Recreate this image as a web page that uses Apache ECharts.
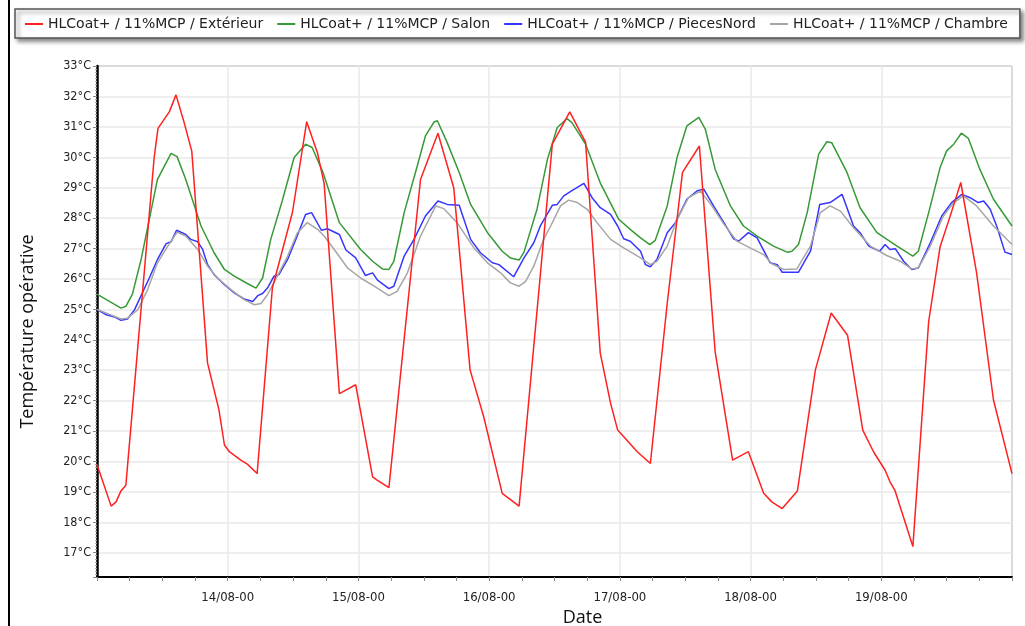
<!DOCTYPE html>
<html><head><meta charset="utf-8">
<script src="https://cdn.jsdelivr.net/npm/echarts@6/dist/echarts.min.js"></script>
<style>html,body{margin:0;padding:0;background:#fff}#c{width:1025px;height:626px}</style>
</head><body><div id="c"></div>
<script>
// Series names (legend)
const seriesNames = [
  'HLCoat+ / 11%MCP / Extérieur',
  'HLCoat+ / 11%MCP / Salon',
  'HLCoat+ / 11%MCP / PiecesNord',
  'HLCoat+ / 11%MCP / Chambre'
];
// Time in hours since 13/08 00:00, temperatures in °C
const extHours = [0,2.6,3.5,4.4,5.3,10.5,11.2,13.3,14.5,16.0,17.4,20.3,22.4,23.4,24.3,26.4,27.6,29.4,32.2,35.9,38.5,40.5,41.7,44.5,47.5,50.6,51.5,53.6,59.4,62.6,65.5,68.5,71.0,74.4,77.5,83.6,86.8,89.7,92.4,94.3,95.6,99.2,101.6,104.7,107.5,110.6,113.5,116.7,119.6,122.4,123.9,125.8,128.6,131.9,134.8,137.8,140.6,142.6,144.7,145.6,146.5,149.8,152.7,154.8,156.6,158.6,161.5,164.6,168];
const extTemps = [19.9,18.53,18.67,19.03,19.22,30.0,30.95,31.5,32.05,31.14,30.2,23.23,21.69,20.54,20.32,20.04,19.91,19.6,25.7,28.2,31.17,30.13,29.14,22.23,22.52,19.49,19.38,19.14,29.27,30.79,29.0,23.01,21.47,18.95,18.53,30.43,31.49,30.5,23.56,21.91,21.03,20.32,19.93,25.2,29.5,30.37,23.6,20.04,20.32,18.95,18.67,18.45,19.03,23.01,24.88,24.15,21.03,20.31,19.71,19.33,19.05,17.2,24.6,27.06,28.04,29.17,26.2,22.02,19.6];

const salonHours = [0,4.4,5.3,6.5,8.1,9.6,11.1,13.6,14.7,16.3,19.1,21.5,23.4,25.2,27.6,29.2,30.4,31.9,34.0,36.2,38.3,39.5,41.5,44.5,48.4,50.6,52.4,53.6,54.5,56.4,58.8,60.3,61.9,62.5,64.3,66.5,68.6,71.7,74.4,75.9,77.5,78.4,80.8,82.7,84.5,86.3,87.2,89.7,92.4,95.8,97.9,99.8,101.5,102.5,104.7,106.5,108.3,110.5,111.7,113.5,116.3,118.7,121.2,124.2,126.7,127.6,128.8,130.4,132.5,134.0,134.9,137.7,140.1,143.2,146.9,149.8,150.8,152.7,154.8,156.0,157.3,158.7,160.0,162.1,164.6,168];
const salonTemps = [25.5,25.04,25.1,25.5,26.64,27.96,29.27,30.13,30.02,29.27,27.74,26.86,26.31,26.09,25.85,25.7,26.03,27.3,28.56,29.99,30.43,30.32,29.5,27.85,26.97,26.58,26.33,26.31,26.58,28.18,29.71,30.7,31.16,31.2,30.48,29.5,28.45,27.52,26.91,26.69,26.62,26.88,28.3,29.93,30.98,31.27,31.14,30.43,29.16,27.96,27.63,27.35,27.13,27.27,28.4,29.99,31.03,31.31,30.92,29.6,28.4,27.74,27.41,27.08,26.88,26.91,27.13,28.18,30.1,30.51,30.48,29.5,28.34,27.52,27.08,26.75,26.91,28.18,29.66,30.21,30.43,30.79,30.62,29.6,28.62,27.74];

const nordHours = [0,1.7,3.2,4.4,5.6,6.9,9.6,11.1,12.7,13.6,14.6,16.3,17.2,18.5,19.4,20.3,21.5,23.4,25.2,27.0,28.6,29.5,30.4,31.3,32.5,33.4,35.0,36.5,38.3,39.4,41.2,42.3,44.5,45.7,47.5,49.3,50.6,51.5,53.6,54.5,56.4,58.2,60.3,62.6,64.3,66.5,68.6,70.4,72.6,73.8,76.5,78.4,80.2,81.4,83.6,84.5,85.7,87.2,89.4,90.9,92.4,94.3,95.6,96.7,97.9,99.8,100.7,101.6,102.8,104.7,106.2,108.3,110.2,111.4,113.2,115.1,116.9,117.8,119.6,121.2,123.6,124.9,125.8,128.8,131.0,132.7,134.6,136.8,138.9,140.1,141.7,143.7,144.7,145.6,146.6,148.1,149.6,150.8,153.0,155.1,156.9,158.8,160.3,161.8,162.8,164.0,165.3,166.7,168];
const nordTemps = [25.0,24.82,24.75,24.64,24.68,24.99,26.03,26.64,27.16,27.22,27.6,27.46,27.3,27.22,26.97,26.47,26.14,25.81,25.54,25.34,25.26,25.45,25.52,25.7,26.09,26.14,26.64,27.3,28.12,28.18,27.6,27.65,27.46,26.95,26.69,26.11,26.2,25.96,25.68,25.76,26.75,27.3,28.07,28.56,28.45,28.42,27.3,26.86,26.53,26.47,26.07,26.69,27.19,27.74,28.42,28.45,28.73,28.9,29.14,28.67,28.34,28.12,27.74,27.32,27.24,26.91,26.47,26.4,26.64,27.52,27.85,28.62,28.9,28.95,28.4,27.85,27.32,27.24,27.52,27.35,26.53,26.47,26.22,26.22,26.91,28.45,28.51,28.78,27.74,27.52,27.08,26.91,27.13,26.97,26.99,26.58,26.31,26.36,27.19,28.07,28.51,28.78,28.67,28.51,28.56,28.29,27.68,26.88,26.8];

const chambreHours = [0,4.4,5.6,7.5,9.3,11.1,13.0,14.7,16.3,18.5,20.3,22.1,24.6,27.0,28.9,30.1,31.3,33.1,35.0,36.8,38.6,40.5,41.7,43.8,46.0,48.4,50.9,53.6,55.1,57.0,59.4,62.2,63.7,66.1,69.2,71.7,74.1,75.9,77.5,78.7,80.2,82.0,83.3,85.1,86.6,88.2,90.0,91.8,94.3,96.7,99.8,101.6,102.8,104.7,106.5,108.6,110.8,112.9,115.1,117.5,119.9,122.4,123.9,126.1,128.5,131.0,132.8,134.6,136.5,138.9,142.0,145.0,147.5,149.6,150.8,153.0,155.4,157.3,159.1,161.5,164.6,168];
const chambreTemps = [25.0,24.68,24.71,24.99,25.65,26.53,27.08,27.54,27.41,26.97,26.42,26.03,25.65,25.32,25.15,25.19,25.48,26.09,26.75,27.52,27.85,27.63,27.41,26.91,26.36,26.03,25.76,25.45,25.59,26.2,27.41,28.4,28.31,27.85,27.02,26.53,26.2,25.87,25.76,25.92,26.42,27.3,27.74,28.4,28.59,28.51,28.29,27.85,27.3,27.02,26.69,26.47,26.58,27.08,27.96,28.67,28.89,28.4,27.8,27.24,27.02,26.8,26.5,26.31,26.33,27.08,28.18,28.4,28.23,27.68,27.08,26.77,26.58,26.33,26.36,27.08,28.07,28.51,28.73,28.4,27.74,27.13];

const colors = ['#ff2020', '#379a37', '#3535ff', '#a6a6a6'];
const startDay = 13;

const pair = (hs, ts) => hs.map((h, i) => [h, ts[i]]);
const allData = [pair(extHours, extTemps), pair(salonHours, salonTemps), pair(nordHours, nordTemps), pair(chambreHours, chambreTemps)];

const chart = echarts.init(document.getElementById('c'), null, {renderer: 'canvas'});
const labelFont = '"DejaVu Sans Condensed", "DejaVu Sans", sans-serif';
const titleFont = '"Open Sans", "Noto Sans", sans-serif';
chart.setOption({
  animation: false,
  backgroundColor: '#fff',
  color: colors,
  graphic: [{type: 'rect', left: 8, top: 0, shape: {width: 2, height: 626}, style: {fill: '#000'}}],
  legend: {
    left: 15, top: 9,
    padding: [8, 12, 7, 10],
    itemGap: 14, itemWidth: 18, itemHeight: 2,
    icon: 'rect',
    backgroundColor: '#fff',
    borderColor: '#555', borderWidth: 1.5,
    shadowColor: 'rgba(0,0,0,0.45)', shadowBlur: 4, shadowOffsetX: 3, shadowOffsetY: 3,
    textStyle: {fontFamily: '"DejaVu Sans", sans-serif', fontSize: 14, color: '#222'},
    data: seriesNames
  },
  grid: {left: 97, right: 13, top: 66, bottom: 49, outerBoundsMode: 'none', containLabel: false,
         show: true, borderColor: '#666', borderWidth: 1, backgroundColor: '#fff'},
  xAxis: {
    type: 'value', min: 0, max: 168, interval: 24,
    name: 'Date', nameLocation: 'middle', nameGap: 27,
    nameTextStyle: {fontFamily: titleFont, fontSize: 18, color: '#111', padding: [0, 0, 0, 56]},
    axisLine: {show: true, lineStyle: {color: '#000', width: 2}},
    axisTick: {show: true, length: 4, lineStyle: {color: '#888'}},
    minorTick: {show: true, splitNumber: 4, length: 4, lineStyle: {color: '#888'}},
    axisLabel: {
      margin: 14, fontFamily: labelFont, fontSize: 13, color: '#222',
      formatter: v => {
        if (v <= 0 || v >= 168) return '';
        const d = startDay + Math.floor(v / 24);
        const hh = v % 24;
        return d + '/08-' + String(hh).padStart(2, '0');
      }
    },
    splitLine: {show: true, lineStyle: {color: '#e8e8e8', width: 1.5}},
    minorSplitLine: {show: false}
  },
  yAxis: {
    type: 'value', min: 16.2, max: 33, minInterval: 1, maxInterval: 1,
    name: 'Température opérative', nameLocation: 'middle', nameGap: 60, nameRotate: 90,
    nameTextStyle: {fontFamily: titleFont, fontSize: 18, color: '#111', padding: [0, 20, 0, 0]},
    axisLine: {show: true, lineStyle: {color: '#000', width: 2.5}},
    axisTick: {show: true, length: 4, lineStyle: {color: '#888'}},
    minorTick: {show: true, splitNumber: 10, length: 2, lineStyle: {color: '#aaa'}},
    axisLabel: {
      margin: 6, fontFamily: labelFont, fontSize: 12.5, color: '#222',
      formatter: v => (Math.abs(v - Math.round(v)) < 1e-6 ? Math.round(v) + '°C' : '')
    },
    splitLine: {show: true, lineStyle: {color: '#e8e8e8', width: 1.5}}
  },
  series: seriesNames.map((n, i) => ({
    name: n, type: 'line', data: allData[i], symbol: 'none', showSymbol: false,
    lineStyle: {width: 1.5, color: colors[i]}, z: i === 0 ? 5 : 3
  }))
});
</script>
</body></html>
